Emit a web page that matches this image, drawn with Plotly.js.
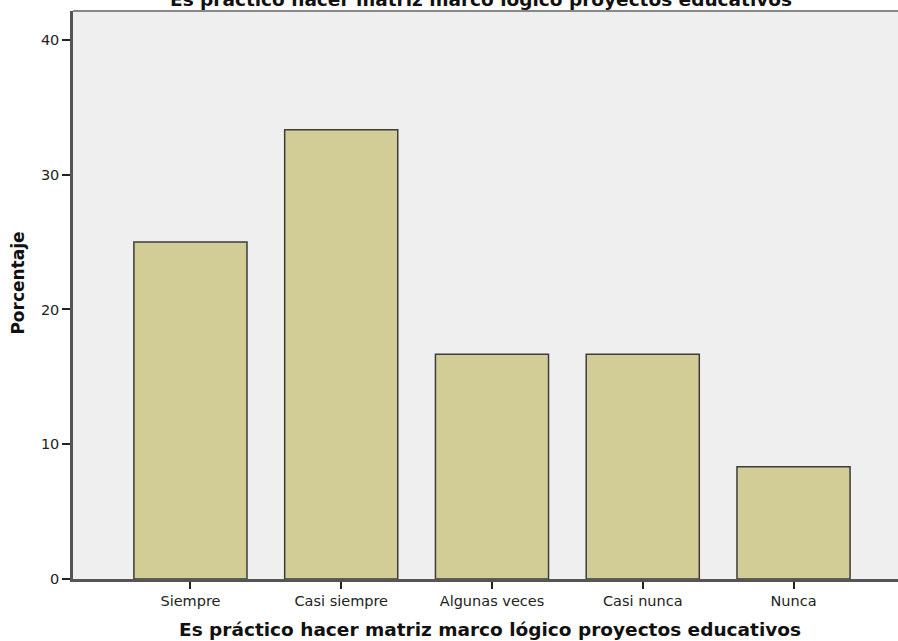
<!DOCTYPE html>
<html>
<head>
<meta charset="utf-8">
<script src="https://cdn.plot.ly/plotly-3.0.1.min.js"></script>
<style>html,body{margin:0;padding:0;background:#fff;}#chart{width:898px;height:641px;}</style>
</head>
<body>
<div id="chart"></div>
<script>
const categories = ["Siempre", "Casi siempre", "Algunas veces", "Casi nunca", "Nunca"];
const percentages = [25.0, 33.33, 16.67, 16.67, 8.33];
const yTickValues = [0, 10, 20, 30, 40];
const chartTitle = "Es práctico hacer matriz marco lógico proyectos educativos";
const xTitle = "Es práctico hacer matriz marco lógico proyectos educativos";
const yTitle = "Porcentaje";

const trace = {
  type: "bar",
  x: categories,
  y: percentages,
  width: 0.75,
  marker: {color: "#D2CD97", line: {color: "#3C3C3C", width: 1.5}},
  hoverinfo: "x+y"
};

const FONT = "DejaVu Sans, sans-serif";

const layout = {
  width: 898, height: 641,
  margin: {l: 73, r: 0, t: 11, b: 62, pad: 0},
  paper_bgcolor: "#FFFFFF",
  plot_bgcolor: "#EFEFEF",
  showlegend: false,
  font: {family: FONT, color: "#222"},
  xaxis: {
    type: "category",
    range: [-0.779, 4.693],
    showgrid: false, zeroline: false,
    showline: true, linecolor: "#555", linewidth: 2.5,
    ticks: "outside", ticklen: 7, tickwidth: 1.5, tickcolor: "#222",
    tickfont: {family: FONT, size: 14.5, color: "#222"}
  },
  yaxis: {
    range: [0, 42.15],
    tickvals: yTickValues,
    showgrid: false, zeroline: false,
    showline: true, linecolor: "#555", linewidth: 2.5,
    ticks: "outside", ticklen: 8, tickwidth: 1.5, tickcolor: "#222",
    tickfont: {family: FONT, size: 14.5, color: "#222"}
  },
  shapes: [{
    type: "line", xref: "paper", yref: "paper",
    x0: 0, x1: 1, y0: 1, y1: 1,
    line: {color: "#888", width: 2}
  }],
  annotations: [{
    text: chartTitle, xref: "paper", yref: "paper",
    x: 0.494, y: 1, xanchor: "center", yanchor: "middle", yshift: 12,
    showarrow: false,
    font: {family: FONT, size: 18.5, color: "#111", weight: "bold"}
  }, {
    text: xTitle, xref: "paper", yref: "paper",
    x: 0.5055, y: 0, xanchor: "center", yanchor: "middle", yshift: -50,
    showarrow: false,
    font: {family: FONT, size: 18.5, color: "#111", weight: "bold"}
  }, {
    text: yTitle, xref: "paper", yref: "paper",
    x: -0.066, y: 0.521, xanchor: "center", yanchor: "middle", textangle: -90,
    showarrow: false,
    font: {family: FONT, size: 17, color: "#111", weight: "bold"}
  }]
};

Plotly.newPlot("chart", [trace], layout, {displayModeBar: false, responsive: false});
</script>
</body>
</html>
